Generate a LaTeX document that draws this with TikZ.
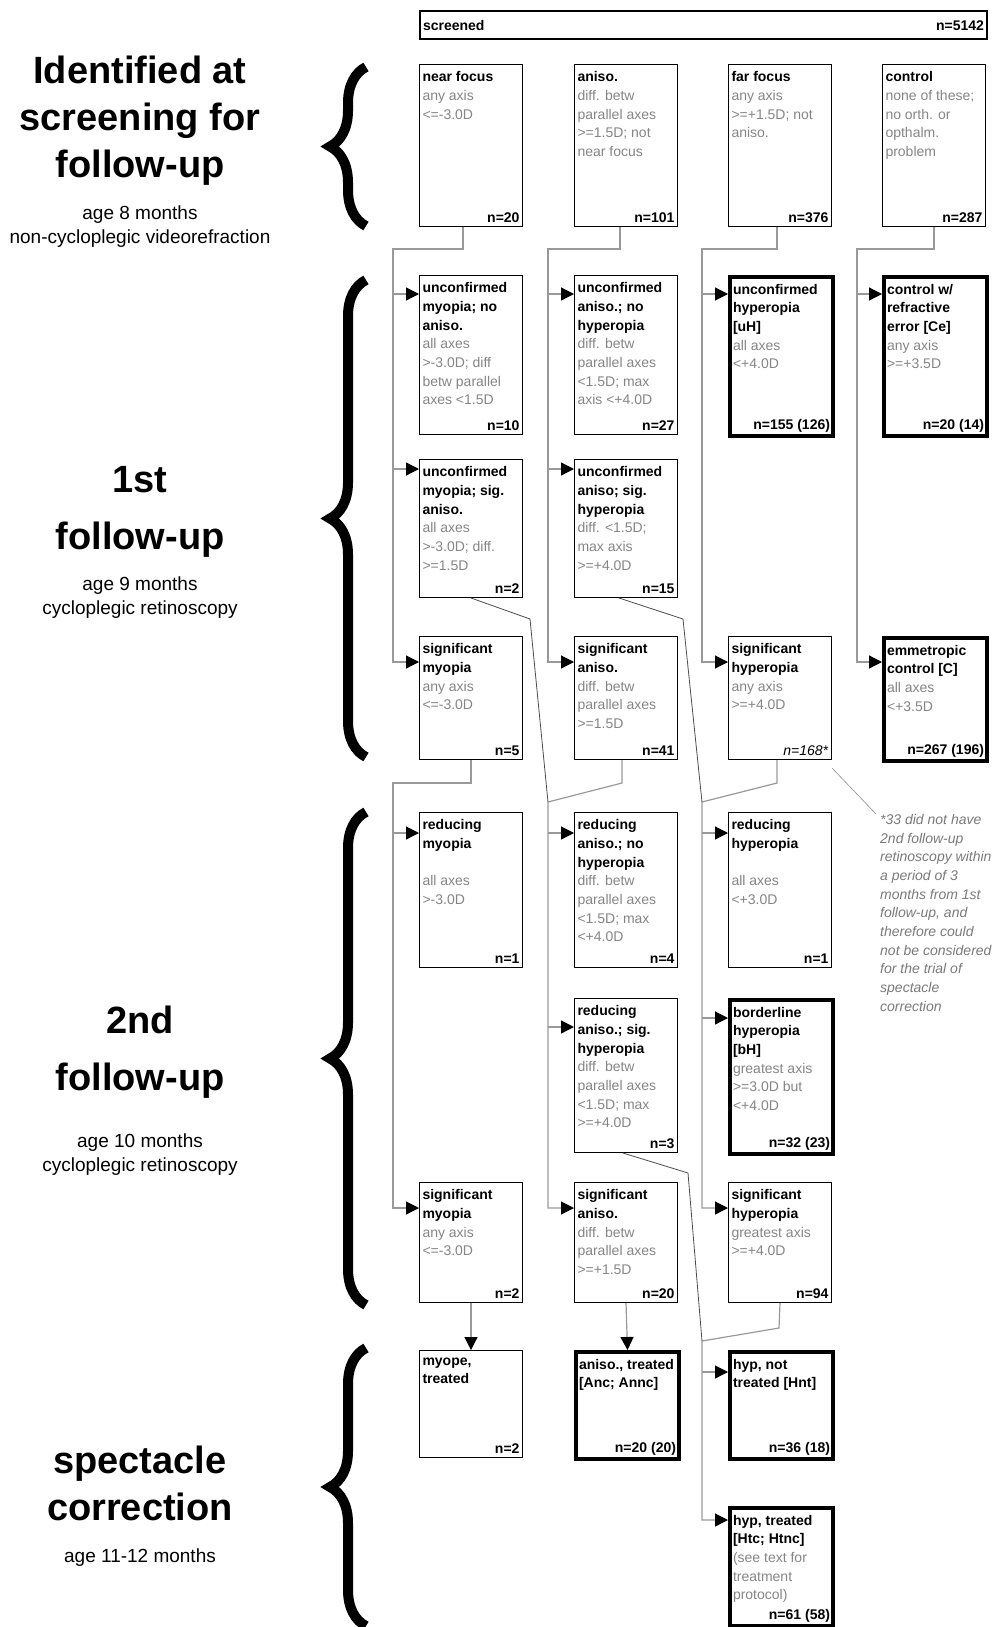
\documentclass[tikz,border=0pt]{standalone}
\usepackage{fontspec}
\setmainfont{Liberation Sans}
\usepackage{xcolor}
\usepackage{tikz}
\usetikzlibrary{arrows.meta, decorations.pathreplacing}
\definecolor{bodygray}{HTML}{858585}
\definecolor{linegray}{HTML}{999999}
\definecolor{notegray}{HTML}{7A7A7A}
\newcommand{\boxfont}{\fontsize{14}{18.7}\selectfont}
\newcommand{\stagetext}[4]{%
  \begin{minipage}[t][#1][t]{97pt}\boxfont
    \vspace*{3pt}
    \raggedright\textbf{#2}\par
    {\color{bodygray}#3\par}
    \vfill
    \raggedleft\textbf{#4}%
  \end{minipage}}
\tikzset{
  stagebox/.style={draw=black,line width=1pt,inner xsep=3pt,inner ysep=4pt,anchor=north west},
  keybox/.style={stagebox,line width=4pt},
  feed/.style={draw=linegray,line width=1.2pt},
  feedarr/.style={feed,-{Triangle[length=13pt,width=13pt,black]}},
  diag/.style={draw=black!70,line width=0.8pt},
  notelink/.style={draw=black!45,line width=0.6pt},
  bigtitle/.style={font=\fontsize{38}{47}\selectfont\bfseries,align=center},
  subtitle/.style={font=\fontsize{19}{24}\selectfont,align=center},
  notetext/.style={anchor=north west,align=left,inner sep=0pt,text=notegray,font=\fontsize{14}{18.7}\selectfont\itshape},
  brc/.style={decorate,decoration={brace,amplitude=36pt},line width=10pt},
}

\begin{document}
\begin{tikzpicture}[x=1pt,y=-1pt]
  \useasboundingbox (0,0) rectangle (1003,1627);
  % stage labels on the left
  \node[bigtitle] (nStageScr) at (140,121) {Identified at\\screening for\\follow-up};
  \node[subtitle] (nStageScrSub) at (140,227) {age 8 months\\non-cycloplegic videorefraction};
  \node[bigtitle] (nStageFu1) at (140,512) {1st\\[10pt]follow-up};
  \node[subtitle] (nStageFu1Sub) at (140,598) {age 9 months\\cycloplegic retinoscopy};
  \node[bigtitle] (nStageFu2) at (140,1052) {2nd\\[10pt]follow-up};
  \node[subtitle] (nStageFu2Sub) at (140,1155) {age 10 months\\cycloplegic retinoscopy};
  \node[bigtitle] (nStageSpec) at (140,1483) {spectacle\\correction};
  \node[subtitle] (nStageSpecSub) at (140,1558) {age 11-12 months};
  \draw[brc] (366,226) -- (366,67);
  \draw[brc] (366,757) -- (366,280);
  \draw[brc] (366,1305) -- (366,812);
  \draw[brc] (366,1626) -- (366,1348);

  \node[stagebox,line width=2pt,minimum height=28pt,inner ysep=0pt] (nScreened) at (419,10)
    {\boxfont\makebox[561pt]{\textbf{screened}\hfill\textbf{n=5142}}};

  \node[stagebox] (nNearFocus) at (419,64) {\stagetext{154pt}{near focus}{any axis\\<=-3.0D}{n=20}};
  \node[stagebox] (nAniso) at (574,64) {\stagetext{154pt}{aniso.}{diff. betw\\parallel axes\\>=1.5D; not\\near focus}{n=101}};
  \node[stagebox] (nFarFocus) at (728,64) {\stagetext{154pt}{far focus}{any axis\\>=+1.5D; not\\aniso.}{n=376}};
  \node[stagebox] (nControl) at (882,64) {\stagetext{154pt}{control}{none of these;\\no orth. or\\opthalm.\\problem}{n=287}};

  \node[stagebox] (nUncMyo) at (419,275) {\stagetext{151pt}{unconfirmed\\myopia; no\\aniso.}{all axes\\>-3.0D; diff\\betw parallel\\axes <1.5D}{n=10}};
  \node[stagebox] (nUncAniso) at (574,275) {\stagetext{151pt}{unconfirmed\\aniso.; no\\hyperopia}{diff. betw\\parallel axes\\<1.5D; max\\axis <+4.0D}{n=27}};
  \node[keybox] (nUncHyp) at (728,275) {\stagetext{151pt}{unconfirmed\\hyperopia\\{[uH]}}{all axes\\<+4.0D}{n=155 (126)}};
  \node[keybox] (nCtrlRefr) at (882,275) {\stagetext{151pt}{control w/\\refractive\\error [Ce]}{any axis\\>=+3.5D}{n=20 (14)}};

  \node[stagebox] (nUncMyoAniso) at (419,459) {\stagetext{130pt}{unconfirmed\\myopia; sig.\\aniso.}{all axes\\>-3.0D; diff.\\>=1.5D}{n=2}};
  \node[stagebox] (nUncAnisoHyp) at (574,459) {\stagetext{130pt}{unconfirmed\\aniso; sig.\\hyperopia}{diff. <1.5D;\\max axis\\>=+4.0D}{n=15}};

  \node[stagebox] (nSigMyo1) at (419,636) {\stagetext{115pt}{significant\\myopia}{any axis\\<=-3.0D}{n=5}};
  \node[stagebox] (nSigAniso1) at (574,636) {\stagetext{115pt}{significant\\aniso.}{diff. betw\\parallel axes\\>=1.5D}{n=41}};
  \node[stagebox] (nSigHyp1) at (728,636) {\stagetext{115pt}{significant\\hyperopia}{any axis\\>=+4.0D}{\mdseries\itshape n=168*}};
  \node[keybox] (nEmmCtrl) at (882,636) {\stagetext{115pt}{emmetropic\\control [C]}{all axes\\<+3.5D}{n=267 (196)}};

  \node[stagebox] (nRedMyo) at (419,812) {\stagetext{147pt}{reducing\\myopia}{~\\all axes\\>-3.0D}{n=1}};
  \node[stagebox] (nRedAniso) at (574,812) {\stagetext{147pt}{reducing\\aniso.; no\\hyperopia}{diff. betw\\parallel axes\\<1.5D; max\\<+4.0D}{n=4}};
  \node[stagebox] (nRedHyp) at (728,812) {\stagetext{147pt}{reducing\\hyperopia}{~\\all axes\\<+3.0D}{n=1}};

  \node[stagebox] (nRedAnisoHyp) at (574,998) {\stagetext{146pt}{reducing\\aniso.; sig.\\hyperopia}{diff. betw\\parallel axes\\<1.5D; max\\>=+4.0D}{n=3}};
  \node[keybox] (nBordHyp) at (728,998) {\stagetext{146pt}{borderline\\hyperopia\\{[bH]}}{greatest axis\\>=3.0D but\\<+4.0D}{n=32 (23)}};

  \node[stagebox] (nSigMyo2) at (419,1182) {\stagetext{112pt}{significant\\myopia}{any axis\\<=-3.0D}{n=2}};
  \node[stagebox] (nSigAniso2) at (574,1182) {\stagetext{112pt}{significant\\aniso.}{diff. betw\\parallel axes\\>=+1.5D}{n=20}};
  \node[stagebox] (nSigHyp2) at (728,1182) {\stagetext{112pt}{significant\\hyperopia}{greatest axis\\>=+4.0D}{n=94}};

  \node[stagebox] (nMyopeTr) at (419,1350) {\stagetext{99pt}{myope,\\treated}{}{n=2}};
  \node[keybox] (nAnisoTr) at (574,1350) {\stagetext{99pt}{aniso., treated\\{[Anc; Annc]}}{}{n=20 (20)}};
  \node[keybox] (nHypNt) at (728,1350) {\stagetext{99pt}{hyp, not\\treated [Hnt]}{}{n=36 (18)}};
  \node[keybox] (nHypTr) at (728,1506) {\stagetext{110pt}{hyp, treated\\{[Htc; Htnc]}}{(see text for\\treatment\\protocol)}{n=61 (58)}};

  \node[notetext] (nFootnote) at (880,814) {*33 did not have\\2nd follow-up\\retinoscopy within\\a period of 3\\months from 1st\\follow-up, and\\therefore could\\not be considered\\for the trial of\\spectacle\\correction};

  % arrow targets
  \coordinate (tUncMyo) at ([yshift=-19pt]nUncMyo.north west);
  \coordinate (tUncAniso) at ([yshift=-19pt]nUncAniso.north west);
  \coordinate (tUncHyp) at ([yshift=-19pt]nUncHyp.north west);
  \coordinate (tCtrlRefr) at ([yshift=-19pt]nCtrlRefr.north west);
  \coordinate (tUncMyoAniso) at ([yshift=-10pt]nUncMyoAniso.north west);
  \coordinate (tUncAnisoHyp) at ([yshift=-10pt]nUncAnisoHyp.north west);
  \coordinate (tSigMyo1) at ([yshift=-26pt]nSigMyo1.north west);
  \coordinate (tSigAniso1) at ([yshift=-26pt]nSigAniso1.north west);
  \coordinate (tSigHyp1) at ([yshift=-26pt]nSigHyp1.north west);
  \coordinate (tEmmCtrl) at ([yshift=-26pt]nEmmCtrl.north west);
  \coordinate (tRedMyo) at ([yshift=-21pt]nRedMyo.north west);
  \coordinate (tRedAniso) at ([yshift=-21pt]nRedAniso.north west);
  \coordinate (tRedHyp) at ([yshift=-21pt]nRedHyp.north west);
  \coordinate (tRedAnisoHyp) at ([yshift=-29pt]nRedAnisoHyp.north west);
  \coordinate (tBordHyp) at ([yshift=-20pt]nBordHyp.north west);
  \coordinate (tSigMyo2) at ([yshift=-26pt]nSigMyo2.north west);
  \coordinate (tSigAniso2) at ([yshift=-26pt]nSigAniso2.north west);
  \coordinate (tSigHyp2) at ([yshift=-26pt]nSigHyp2.north west);
  \coordinate (tHypNt) at ([yshift=-22pt]nHypNt.north west);
  \coordinate (tHypTr) at ([yshift=-14pt]nHypTr.north west);

  % bends of the connectors
  \coordinate (kA1) at (393,249);
  \coordinate (kA2) at (548,249);
  \coordinate (kA3) at (702,249);
  \coordinate (kA4) at (857,249);
  \coordinate (kB1) at (393,783);
  \coordinate (mB2) at (548,802);
  \coordinate (mB3) at (702,802);
  \coordinate (dB1) at (530,619);
  \coordinate (dB2) at (683,619);
  \coordinate (kC3) at (779,1328);
  \coordinate (mC3) at (702,1341);
  \coordinate (dC2) at (688,1173);

  \draw[feedarr] ([xshift=-8pt]nNearFocus.south) |- (kA1) |- (tSigMyo1);
  \draw[feedarr] (kA1 |- tUncMyo) -- (tUncMyo);
  \draw[feedarr] (kA1 |- tUncMyoAniso) -- (tUncMyoAniso);
  \draw[feedarr] ([xshift=-6pt]nAniso.south) |- (kA2) |- (tSigAniso1);
  \draw[feedarr] (kA2 |- tUncAniso) -- (tUncAniso);
  \draw[feedarr] (kA2 |- tUncAnisoHyp) -- (tUncAnisoHyp);
  \draw[feedarr] ([xshift=-3pt]nFarFocus.south) |- (kA3) |- (tSigHyp1);
  \draw[feedarr] (kA3 |- tUncHyp) -- (tUncHyp);
  \draw[feedarr] (nControl.south) |- (kA4) |- (tEmmCtrl);
  \draw[feedarr] (kA4 |- tCtrlRefr) -- (tCtrlRefr);

  \draw[feedarr] (nSigMyo1.south) |- (kB1) |- (tSigMyo2);
  \draw[feedarr] (kB1 |- tRedMyo) -- (tRedMyo);
  \draw[feedarr] ([xshift=-4pt]nSigAniso1.south) -- ([xshift=-4pt]nSigAniso1.south |- kB1) -- (mB2) |- (tSigAniso2);
  \draw[feedarr] (mB2 |- tRedAniso) -- (tRedAniso);
  \draw[feedarr] (mB2 |- tRedAnisoHyp) -- (tRedAnisoHyp);
  \draw[diag] (nUncMyoAniso.south) -- (dB1) -- (mB2);
  \draw[feedarr] ([xshift=-3pt]nSigHyp1.south) -- ([xshift=-3pt]nSigHyp1.south |- kB1) -- (mB3) |- (tSigHyp2);
  \draw[feedarr] (mB3 |- tRedHyp) -- (tRedHyp);
  \draw[feedarr] (mB3 |- tBordHyp) -- (tBordHyp);
  \draw[diag] ([xshift=-7pt]nUncAnisoHyp.south) -- (dB2) -- (mB3);

  \draw[feedarr] (nSigMyo2.south) -- (nMyopeTr.north);
  \draw[feedarr] (nSigAniso2.south) -- (nAnisoTr.north);
  \draw[feedarr] (nSigHyp2.south) -- (kC3) -- (mC3) |- (tHypTr);
  \draw[feedarr] (mC3 |- tHypNt) -- (tHypNt);
  \draw[diag] ([xshift=-3pt]nRedAnisoHyp.south) -- (dC2) -- (mC3);

  \draw[notelink] ([yshift=-8pt]nSigHyp1.south east) -- ([xshift=-4pt]nFootnote.north west);
\end{tikzpicture}
\end{document}
